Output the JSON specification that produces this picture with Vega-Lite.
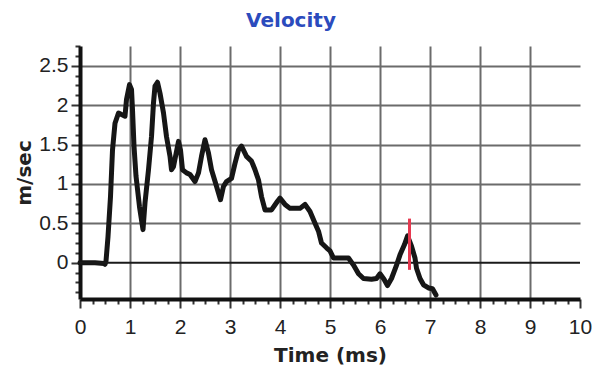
{
  "$schema": "https://vega.github.io/schema/vega-lite/v6.json",
  "width": 500,
  "height": 253,
  "autosize": {"type": "none"},
  "padding": {"left": 80, "top": 46, "right": 18, "bottom": 70},
  "background": "white",
  "title": {
    "text": "Velocity",
    "color": "#2b4bbd",
    "font": "DejaVu Sans",
    "fontSize": 20,
    "fontWeight": "bold",
    "frame": "group",
    "dx": -39,
    "offset": 4
  },
  "config": {
    "view": {"stroke": null},
    "axis": {
      "labelOverlap": false,
      "labelFlush": false,
      "labelBound": false,
      "labelFont": "Liberation Sans",
      "labelFontSize": 21,
      "labelColor": "#222222",
      "tickColor": "#333333",
      "tickWidth": 2,
      "domainColor": "#111111",
      "domainWidth": 4,
      "grid": true,
      "gridWidth": 2,
      "titleFont": "DejaVu Sans",
      "titleFontSize": 20,
      "titleFontWeight": "bold",
      "titleColor": "#222222"
    }
  },
  "layer": [
    {
      "data": {
        "values": [
          {"t": 0, "v": 0}, {"t": 0.3, "v": 0}, {"t": 0.48, "v": -0.01}, {"t": 0.5, "v": -0.02},
          {"t": 0.52, "v": 0.02}, {"t": 0.56, "v": 0.33}, {"t": 0.61, "v": 0.84}, {"t": 0.65, "v": 1.43},
          {"t": 0.7, "v": 1.77}, {"t": 0.77, "v": 1.9}, {"t": 0.83, "v": 1.88}, {"t": 0.9, "v": 1.86},
          {"t": 0.93, "v": 2.07}, {"t": 0.99, "v": 2.26}, {"t": 1.03, "v": 2.2}, {"t": 1.05, "v": 1.94},
          {"t": 1.08, "v": 1.48}, {"t": 1.12, "v": 1.1}, {"t": 1.19, "v": 0.71}, {"t": 1.26, "v": 0.42},
          {"t": 1.3, "v": 0.76}, {"t": 1.37, "v": 1.18}, {"t": 1.43, "v": 1.6}, {"t": 1.47, "v": 2.03},
          {"t": 1.5, "v": 2.24}, {"t": 1.55, "v": 2.29}, {"t": 1.6, "v": 2.15}, {"t": 1.67, "v": 1.9},
          {"t": 1.73, "v": 1.6}, {"t": 1.8, "v": 1.35}, {"t": 1.83, "v": 1.18}, {"t": 1.87, "v": 1.22},
          {"t": 1.97, "v": 1.54}, {"t": 2.01, "v": 1.43}, {"t": 2.05, "v": 1.18}, {"t": 2.13, "v": 1.14},
          {"t": 2.2, "v": 1.12}, {"t": 2.3, "v": 1.03}, {"t": 2.37, "v": 1.14}, {"t": 2.43, "v": 1.35},
          {"t": 2.5, "v": 1.56}, {"t": 2.57, "v": 1.39}, {"t": 2.63, "v": 1.18}, {"t": 2.73, "v": 0.97},
          {"t": 2.81, "v": 0.8}, {"t": 2.87, "v": 0.97}, {"t": 2.93, "v": 1.03}, {"t": 3.03, "v": 1.07},
          {"t": 3.1, "v": 1.26}, {"t": 3.17, "v": 1.43}, {"t": 3.23, "v": 1.48}, {"t": 3.33, "v": 1.35},
          {"t": 3.43, "v": 1.29}, {"t": 3.5, "v": 1.18}, {"t": 3.57, "v": 1.05}, {"t": 3.63, "v": 0.84},
          {"t": 3.7, "v": 0.67}, {"t": 3.83, "v": 0.67}, {"t": 3.95, "v": 0.78}, {"t": 4.0, "v": 0.82},
          {"t": 4.1, "v": 0.74}, {"t": 4.2, "v": 0.69}, {"t": 4.4, "v": 0.69}, {"t": 4.5, "v": 0.74},
          {"t": 4.6, "v": 0.65}, {"t": 4.7, "v": 0.5}, {"t": 4.77, "v": 0.4}, {"t": 4.83, "v": 0.25},
          {"t": 4.93, "v": 0.19}, {"t": 5.0, "v": 0.15}, {"t": 5.07, "v": 0.06}, {"t": 5.37, "v": 0.06},
          {"t": 5.47, "v": -0.03}, {"t": 5.57, "v": -0.14}, {"t": 5.67, "v": -0.2}, {"t": 5.83, "v": -0.21},
          {"t": 5.93, "v": -0.2}, {"t": 6.0, "v": -0.14}, {"t": 6.08, "v": -0.21}, {"t": 6.15, "v": -0.29},
          {"t": 6.23, "v": -0.2}, {"t": 6.32, "v": -0.05}, {"t": 6.4, "v": 0.1}, {"t": 6.49, "v": 0.23},
          {"t": 6.55, "v": 0.34}, {"t": 6.63, "v": 0.21}, {"t": 6.7, "v": 0.06}, {"t": 6.73, "v": -0.07},
          {"t": 6.8, "v": -0.2}, {"t": 6.87, "v": -0.28}, {"t": 6.97, "v": -0.32}, {"t": 7.05, "v": -0.33},
          {"t": 7.12, "v": -0.41}
        ]
      },
      "mark": {"type": "line", "color": "#161616", "strokeWidth": 5, "strokeJoin": "round", "strokeCap": "round"},
      "encoding": {
        "x": {
          "field": "t",
          "type": "quantitative",
          "scale": {"domain": [0, 10], "nice": false, "zero": false},
          "axis": {
            "title": "Time (ms)",
            "values": [0, 0.25, 0.5, 0.75, 1, 1.25, 1.5, 1.75, 2, 2.25, 2.5, 2.75, 3, 3.25, 3.5, 3.75, 4, 4.25, 4.5, 4.75, 5, 5.25, 5.5, 5.75, 6, 6.25, 6.5, 6.75, 7, 7.25, 7.5, 7.75, 8, 8.25, 8.5, 8.75, 9, 9.25, 9.5, 9.75, 10],
            "labelExpr": "datum.value % 1 == 0 ? format(datum.value, 'd') : ''",
            "labelPadding": 8,
            "tickSize": {"condition": {"test": "datum.value % 1 == 0", "value": 9}, "value": 5},
            "gridColor": {"condition": {"test": "datum.value % 1 == 0 && datum.value > 0 && datum.value < 10", "value": "#6b6b6b"}, "value": "transparent"},
            "titlePadding": 8
          }
        },
        "y": {
          "field": "v",
          "type": "quantitative",
          "scale": {"domain": [-0.46, 2.75], "nice": false, "zero": false},
          "axis": {
            "title": "m/sec",
            "values": [-0.375, -0.25, -0.125, 0, 0.125, 0.25, 0.375, 0.5, 0.625, 0.75, 0.875, 1, 1.125, 1.25, 1.375, 1.5, 1.625, 1.75, 1.875, 2, 2.125, 2.25, 2.375, 2.5, 2.625, 2.75],
            "labelExpr": "datum.value % 0.5 == 0 && datum.value > -0.1 ? '' + datum.value : ''",
            "labelPadding": 3,
            "tickSize": {"condition": {"test": "datum.value % 0.5 == 0", "value": 9}, "value": 5},
            "gridColor": {"condition": {"test": "datum.value % 0.5 == 0 && datum.value > 0.1", "value": "#6b6b6b"}, "value": "transparent"},
            "titlePadding": 4
          }
        }
      }
    },
    {
      "data": {"values": [{"v": 0}]},
      "mark": {"type": "rule", "color": "#1a1a1a", "strokeWidth": 2},
      "encoding": {
        "y": {
          "field": "v",
          "type": "quantitative",
          "axis": {
            "title": "m/sec",
            "values": [-0.375, -0.25, -0.125, 0, 0.125, 0.25, 0.375, 0.5, 0.625, 0.75, 0.875, 1, 1.125, 1.25, 1.375, 1.5, 1.625, 1.75, 1.875, 2, 2.125, 2.25, 2.375, 2.5, 2.625, 2.75],
            "labelExpr": "datum.value % 0.5 == 0 && datum.value > -0.1 ? '' + datum.value : ''",
            "labelPadding": 3,
            "tickSize": {"condition": {"test": "datum.value % 0.5 == 0", "value": 9}, "value": 5},
            "gridColor": {"condition": {"test": "datum.value % 0.5 == 0 && datum.value > 0.1", "value": "#6b6b6b"}, "value": "transparent"},
            "titlePadding": 4
          }
        }
      }
    },
    {
      "data": {"values": [{"t": 6.59, "lo": -0.09, "hi": 0.56}]},
      "mark": {"type": "rule", "color": "#e63950", "strokeWidth": 3},
      "encoding": {
        "x": {
          "field": "t",
          "type": "quantitative",
          "axis": {
            "title": "Time (ms)",
            "values": [0, 0.25, 0.5, 0.75, 1, 1.25, 1.5, 1.75, 2, 2.25, 2.5, 2.75, 3, 3.25, 3.5, 3.75, 4, 4.25, 4.5, 4.75, 5, 5.25, 5.5, 5.75, 6, 6.25, 6.5, 6.75, 7, 7.25, 7.5, 7.75, 8, 8.25, 8.5, 8.75, 9, 9.25, 9.5, 9.75, 10],
            "labelExpr": "datum.value % 1 == 0 ? format(datum.value, 'd') : ''",
            "labelPadding": 8,
            "tickSize": {"condition": {"test": "datum.value % 1 == 0", "value": 9}, "value": 5},
            "gridColor": {"condition": {"test": "datum.value % 1 == 0 && datum.value > 0 && datum.value < 10", "value": "#6b6b6b"}, "value": "transparent"},
            "titlePadding": 8
          }
        },
        "y": {
          "field": "lo",
          "type": "quantitative",
          "axis": {
            "title": "m/sec",
            "values": [-0.375, -0.25, -0.125, 0, 0.125, 0.25, 0.375, 0.5, 0.625, 0.75, 0.875, 1, 1.125, 1.25, 1.375, 1.5, 1.625, 1.75, 1.875, 2, 2.125, 2.25, 2.375, 2.5, 2.625, 2.75],
            "labelExpr": "datum.value % 0.5 == 0 && datum.value > -0.1 ? '' + datum.value : ''",
            "labelPadding": 3,
            "tickSize": {"condition": {"test": "datum.value % 0.5 == 0", "value": 9}, "value": 5},
            "gridColor": {"condition": {"test": "datum.value % 0.5 == 0 && datum.value > 0.1", "value": "#6b6b6b"}, "value": "transparent"},
            "titlePadding": 4
          }
        },
        "y2": {"field": "hi"}
      }
    }
  ]
}
